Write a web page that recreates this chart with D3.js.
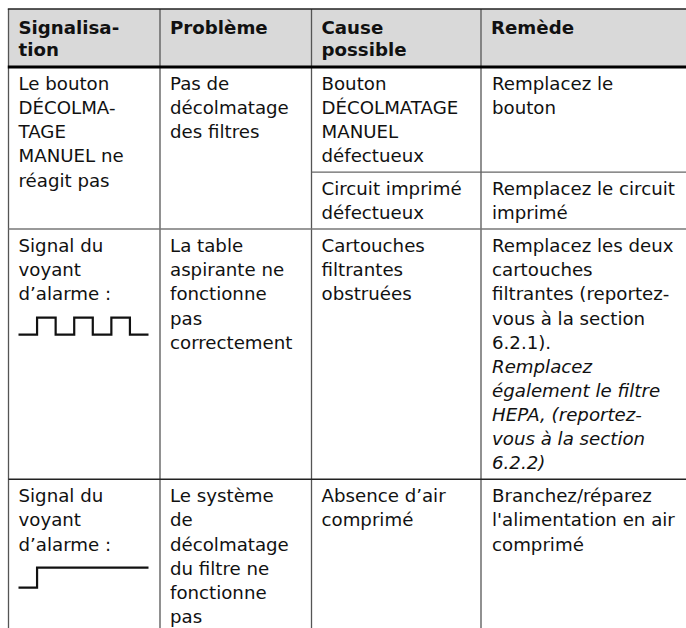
<!DOCTYPE html>
<html>
<head>
<meta charset="utf-8">
<script src="https://cdn.jsdelivr.net/npm/d3@7"></script>
<style>
  html, body { margin: 0; padding: 0; background: #fff; }
  svg { display: block; }
</style>
</head>
<body>
<svg id="chart" width="686" height="628"></svg>
<script>
// ---- data ----
const headers = [["Signalisa-", "tion"], ["Problème"], ["Cause", "possible"], ["Remède"]];

const signalisation = [
  ["Le bouton", "DÉCOLMA-", "TAGE", "MANUEL ne", "réagit pas"],
  ["Signal du", "voyant", "d’alarme :"],
  ["Signal du", "voyant", "d’alarme :"]
];

// alarm lamp signal levels (0 = off, 1 = on), one value per time step
const signals = [
  null,
  [0, 1, 0, 1, 0, 1, 0],
  [0, 1, 1, 1, 1, 1, 1]
];

const problemes = [
  ["Pas de", "décolmatage", "des filtres"],
  ["La table", "aspirante ne", "fonctionne", "pas", "correctement"],
  ["Le système", "de", "décolmatage", "du filtre ne", "fonctionne", "pas"]
];

const causes = [
  [["Bouton", "DÉCOLMATAGE", "MANUEL", "défectueux"], ["Circuit imprimé", "défectueux"]],
  [["Cartouches", "filtrantes", "obstruées"]],
  [["Absence d’air", "comprimé"]]
];

const remedes = [
  [["Remplacez le", "bouton"], ["Remplacez le circuit", "imprimé"]],
  [["Remplacez les deux", "cartouches", "filtrantes (reportez-", "vous à la section", "6.2.1)."]],
  [["Branchez/réparez", "l'alimentation en air", "comprimé"]]
];

const remedeNotes = [
  [null, null],
  [["Remplacez", "également le filtre", "HEPA, (reportez-", "vous à la section", "6.2.2)"]],
  [null]
];

// ---- layout ----
const W = 686, H = 628;
const FONT = "'DejaVu Sans', Verdana, sans-serif";
const FS = 18.2;
const LH = 24.15;
const PAD = 8.6;
const BASE = 23;        // first baseline offset from cell top
const TX = 10;          // text left padding
const colX = [8.5, 160, 311.5, 481, 700];
const tableTop = 9;
const headerH = 58;

const svg = d3.select("#chart");

// header background
const bodyTop = tableTop + headerH;
svg.append("rect").attr("x", colX[0]).attr("y", tableTop)
  .attr("width", W - colX[0]).attr("height", headerH).attr("fill", "#d9d9d9");

// header text
headers.forEach((lines, c) => {
  const t = svg.append("text").attr("font-family", FONT).attr("font-size", FS)
    .attr("font-weight", "bold").attr("fill", "#111");
  lines.forEach((ln, i) => {
    t.append("tspan").attr("x", colX[c] + TX).attr("y", tableTop + 24.5 + i * 22).text(ln);
  });
});

function drawLines(x, y, lines, italic) {
  const t = svg.append("text").attr("font-family", FONT).attr("font-size", FS)
    .attr("fill", "#111").attr("font-style", italic ? "italic" : "normal");
  lines.forEach((ln, i) => {
    t.append("tspan").attr("x", x).attr("y", y + i * LH).text(ln);
  });
}

const lineGen = d3.line().curve(d3.curveStepAfter);

let y0 = bodyTop;
const rowEdges = [bodyTop];
const subEdges = [];
signalisation.forEach((sig, r) => {
  // sub-row heights for cause/remède
  const subH = causes[r].map((cl, s) => {
    const nRem = remedes[r][s].length + (remedeNotes[r][s] ? remedeNotes[r][s].length : 0);
    return Math.max(cl.length, nRem) * LH + PAD;
  });
  const iconExtra = signals[r] ? 38 : 0;
  const leftH = Math.max(sig.length * LH + iconExtra, problemes[r].length * LH) + PAD;
  const rowH = Math.max(d3.sum(subH), leftH);

  drawLines(colX[0] + TX, y0 + BASE, sig, false);
  drawLines(colX[1] + TX, y0 + BASE, problemes[r], false);

  let sy = y0;
  causes[r].forEach((cl, s) => {
    drawLines(colX[2] + TX, sy + BASE, cl, false);
    drawLines(colX[3] + TX + 1, sy + BASE, remedes[r][s], false);
    if (remedeNotes[r][s]) {
      drawLines(colX[3] + TX + 1, sy + BASE + remedes[r][s].length * LH, remedeNotes[r][s], true);
    }
    sy += subH[s];
    if (s < causes[r].length - 1) subEdges.push(sy);
  });

  if (signals[r]) {
    const vals = signals[r];
    const xs = d3.scaleLinear().domain([0, vals.length]).range([colX[0] + 10, colX[0] + 140]);
    const top = y0 + BASE + (sig.length - 1) * LH + 17.2;
    const ys = d3.scaleLinear().domain([0, 1]).range([top + (r === 2 ? 20 : 17), top]);
    const pts = vals.map((v, i) => [xs(i), ys(v)]);
    pts.push([xs(vals.length), ys(vals[vals.length - 1])]);
    svg.append("path").attr("d", lineGen(pts)).attr("fill", "none")
      .attr("stroke", "#111").attr("stroke-width", 2.2);
  }

  y0 += rowH;
  rowEdges.push(y0);
});

// grid lines
const g = svg.append("g").attr("fill", "none");
// vertical lines
colX.slice(0, 4).forEach((x) => {
  g.append("line").attr("x1", x).attr("x2", x).attr("y1", tableTop).attr("y2", H + 10)
    .attr("stroke", "#555").attr("stroke-width", 1.3);
});
// sub-row lines (cause/remède)
subEdges.forEach(y => {
  g.append("line").attr("x1", colX[2]).attr("x2", W).attr("y1", y).attr("y2", y)
    .attr("stroke", "#666").attr("stroke-width", 1.3);
});
// row lines
rowEdges.slice(1).forEach((y, i) => {
  g.append("line").attr("x1", colX[0]).attr("x2", W).attr("y1", y).attr("y2", y)
    .attr("stroke", i === 0 ? "#777" : "#222").attr("stroke-width", 1.5);
});
// top border
g.append("line").attr("x1", colX[0] - 0.7).attr("x2", W).attr("y1", tableTop).attr("y2", tableTop)
  .attr("stroke", "#222").attr("stroke-width", 1.5);
// header bottom thick rule
g.append("line").attr("x1", colX[0] - 0.7).attr("x2", W).attr("y1", bodyTop).attr("y2", bodyTop)
  .attr("stroke", "#000").attr("stroke-width", 3);
</script>
</body>
</html>
